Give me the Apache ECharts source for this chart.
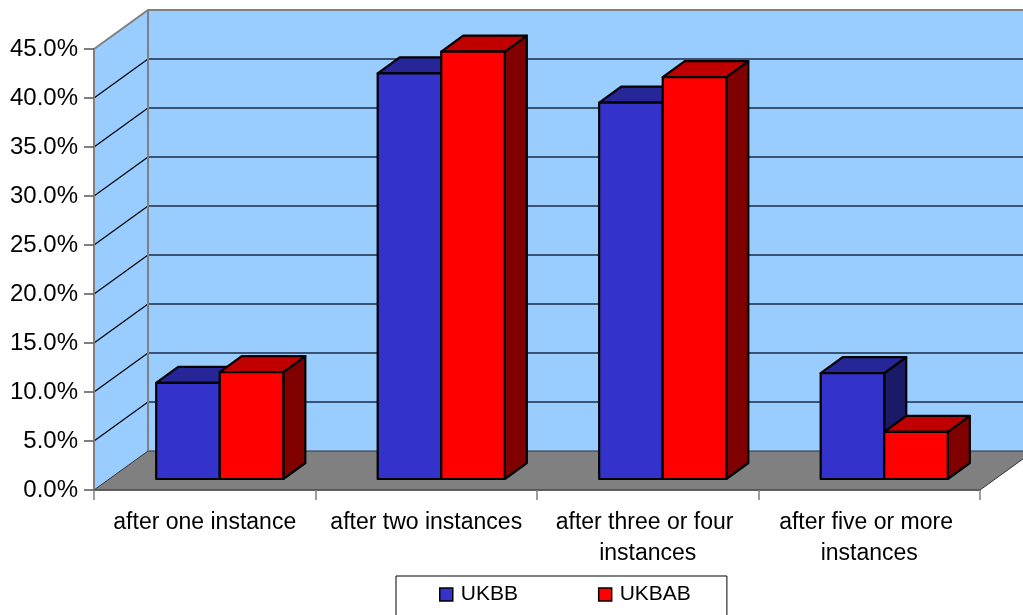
<!DOCTYPE html>
<html>
<head>
<meta charset="utf-8">
<script src="https://cdn.jsdelivr.net/npm/echarts@6/dist/echarts.min.js"></script>
<style>
  html, body { margin: 0; padding: 0; background: #fff; }
  #chart { width: 1023px; height: 615px; }
</style>
</head>
<body>
<div id="chart"></div>
<script>
// chart data
var categories = ['after one instance', 'after two instances', 'after three or four instances', 'after five or more instances'];
var ukbb = [9.8, 41.4, 38.4, 10.8];
var ukbab = [10.9, 43.6, 41.0, 4.8];
var yMax = 45;
var yStep = 5;

// oblique 3d offsets (pixels)
var WALL_DX = 54, WALL_DY = -39;   // depth of the whole plot box
var BAR_OX = 15, BAR_OY = -11;     // where the bar front sits
var BAR_DX = 22, BAR_DY = -16;     // bar depth
var BAR_FRAC = 0.287;              // bar width / category width

var chart = echarts.init(document.getElementById('chart'));

function renderWalls(params, api) {
    var cs = params.coordSys;
    var L = cs.x, R = cs.x + cs.width;
    var B = api.coord([0, 0])[1];
    var T = api.coord([0, yMax])[1];
    var kids = [];
    // back wall
    kids.push({ type: 'rect', shape: { x: L + WALL_DX, y: T + WALL_DY, width: R - L, height: B - T },
        style: { fill: '#99CCFF' } });
    // side wall
    kids.push({ type: 'polygon', shape: { points: [[L, B], [L, T], [L + WALL_DX, T + WALL_DY], [L + WALL_DX, B + WALL_DY]] },
        style: { fill: '#99CCFF' } });
    // floor
    kids.push({ type: 'polygon', shape: { points: [[L, B], [R, B], [R + WALL_DX, B + WALL_DY], [L + WALL_DX, B + WALL_DY]] },
        style: { fill: '#808080', stroke: '#333', lineWidth: 1 } });
    // gridlines
    for (var v = yStep; v < yMax; v += yStep) {
        var y = api.coord([0, v])[1];
        kids.push({ type: 'line', shape: { x1: L + WALL_DX, y1: y + WALL_DY, x2: R + WALL_DX, y2: y + WALL_DY },
            style: { stroke: '#1c2a44', lineWidth: 1.3 } });
        kids.push({ type: 'line', shape: { x1: L, y1: y, x2: L + WALL_DX, y2: y + WALL_DY },
            style: { stroke: '#000', lineWidth: 1.2 } });
    }
    // wall edges
    kids.push({ type: 'polyline', shape: { points: [[L, T], [L + WALL_DX, T + WALL_DY], [R + WALL_DX, T + WALL_DY]] },
        style: { stroke: '#808080', lineWidth: 2, fill: null } });
    kids.push({ type: 'line', shape: { x1: L + WALL_DX, y1: T + WALL_DY, x2: L + WALL_DX, y2: B + WALL_DY },
        style: { stroke: '#808080', lineWidth: 2 } });
    return { type: 'group', children: kids, silent: true };
}

function makeBarRender(side, front, top, dark) {
    return function (params, api) {
        var i = api.value(0);
        var base = api.coord([i, 0]);
        var tip = api.coord([i, api.value(1)]);
        var band = api.size([1, 0])[0];
        var w = band * BAR_FRAC;
        var x0 = base[0] + (side === 0 ? -w : 0) + BAR_OX;
        var x1 = x0 + w;
        var yb = base[1] + BAR_OY;
        var yt = tip[1] + BAR_OY;
        var ln = { stroke: '#000', lineWidth: 2.2, lineJoin: 'round' };
        return {
            type: 'group',
            children: [
                { type: 'polygon', shape: { points: [[x1, yt], [x1, yb], [x1 + BAR_DX, yb + BAR_DY], [x1 + BAR_DX, yt + BAR_DY]] },
                  style: Object.assign({ fill: dark }, ln) },
                { type: 'polygon', shape: { points: [[x0, yt], [x1, yt], [x1 + BAR_DX, yt + BAR_DY], [x0 + BAR_DX, yt + BAR_DY]] },
                  style: Object.assign({ fill: top }, ln) },
                { type: 'rect', shape: { x: x0, y: yt, width: w, height: yb - yt },
                  style: Object.assign({ fill: front }, ln) }
            ]
        };
    };
}

function toPairs(arr) {
    return arr.map(function (v, i) { return [i, v]; });
}

var option = {
    animation: false,
    textStyle: { fontFamily: 'Liberation Sans, Arial, sans-serif' },
    grid: { left: 94, right: 43, top: 49, bottom: 125 },
    legend: {
        left: 396, top: 576,
        icon: 'rect', itemWidth: 13, itemHeight: 13, itemGap: 80,
        padding: [8, 36, 20, 43],
        borderColor: '#000', borderWidth: 1,
        textStyle: { fontSize: 21, color: '#000', padding: [0, 0, 0, 3] },
        data: [
            { name: 'UKBB', itemStyle: { color: '#3333CC', borderColor: '#000', borderWidth: 1.5 } },
            { name: 'UKBAB', itemStyle: { color: '#FF0000', borderColor: '#000', borderWidth: 1.5 } }
        ]
    },
    xAxis: {
        type: 'category',
        data: categories,
        z: 5,
        axisLine: { lineStyle: { color: '#555', width: 1.5 } },
        axisTick: { show: true, interval: 0, length: 10, lineStyle: { color: '#808080', width: 1.5 } },
        axisLabel: {
            interval: 0, fontSize: 23, color: '#000', margin: 17, lineHeight: 31,
            width: 215, overflow: 'break'
        }
    },
    yAxis: {
        type: 'value', min: 0, max: yMax, interval: yStep,
        z: 5,
        axisLine: { show: true, lineStyle: { color: '#808080', width: 2 } },
        axisTick: { show: true, length: 10, lineStyle: { color: '#555', width: 1.5 } },
        splitLine: { show: false },
        axisLabel: { fontSize: 24, color: '#000', margin: 16,
            formatter: function (v) { return v.toFixed(1) + '%'; } }
    },
    series: [
        { type: 'custom', name: 'walls', silent: true, z: 1, renderItem: renderWalls, data: [[0, 0]] },
        { type: 'custom', name: 'UKBB', z: 2, itemStyle: { color: '#3333CC' },
          renderItem: makeBarRender(0, '#3333CC', '#262699', '#1A1A66'), data: toPairs(ukbb) },
        { type: 'custom', name: 'UKBAB', z: 3, itemStyle: { color: '#FF0000' },
          renderItem: makeBarRender(1, '#FF0000', '#C00000', '#800000'), data: toPairs(ukbab) }
    ]
};

chart.setOption(option);
</script>
</body>
</html>
